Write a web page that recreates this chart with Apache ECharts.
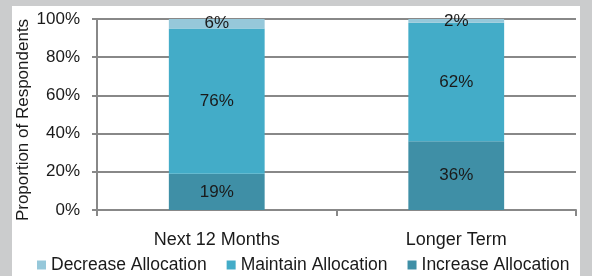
<!DOCTYPE html>
<html lang="en">
<head>
    <meta charset="UTF-8">
    <title>Allocation</title>
    <script src="https://cdn.jsdelivr.net/npm/echarts@6/dist/echarts.min.js"></script>
    <style>
        html, body { margin: 0; padding: 0; background: #cbcccd; }
        #panel { position: absolute; left: 12px; top: 6px; width: 568px; height: 270px; background: #fff; }
        #chart { position: absolute; left: 0; top: 0; width: 592px; height: 276px; }
    </style>
</head>
<body>
<div id="panel"></div>
<div id="chart"></div>
<script>
    var categories = ['Next 12 Months', 'Longer Term'];
    var seriesNames = ['Increase Allocation', 'Maintain Allocation', 'Decrease Allocation'];
    var increaseVals = [19, 36];
    var maintainVals = [76, 62];
    var decreaseVals = [6, 2];
    var yTicks = [0, 20, 40, 60, 80, 100];
    var yTitle = 'Proportion of Respondents';

    var colors = ['#3f8fa6', '#43acc8', '#96c8da'];
    var font = 'Liberation Sans, Arial, sans-serif';

    function makeSeries(name, data, color) {
        return {
            name: name,
            type: 'bar',
            stack: 'all',
            barWidth: '40%',
            data: data,
            itemStyle: { color: color },
            label: {
                show: true,
                position: 'inside',
                formatter: '{c}%',
                color: '#1a1a1a',
                fontFamily: font,
                fontSize: 17
            }
        };
    }

    var myChart = echarts.init(document.getElementById('chart'));
    var option = {
        animation: false,
        textStyle: { fontFamily: font },
        grid: { left: 97, right: 16, top: 19, bottom: 66 },
        // y axis title placed by hand
        graphic: [{
            type: 'text',
            x: 23,
            y: 120,
            rotation: Math.PI / 2,
            style: {
                text: yTitle,
                fill: '#1a1a1a',
                font: '17px ' + font,
                align: 'center',
                verticalAlign: 'middle'
            }
        }],
        legend: {
            top: 256,
            left: 37,
            itemWidth: 9,
            itemHeight: 9,
            itemGap: 20,
            icon: 'rect',
            padding: 0,
            data: ['Decrease Allocation', 'Maintain Allocation', 'Increase Allocation'],
            textStyle: { fontSize: 17.5, color: '#1a1a1a', fontFamily: font }
        },
        xAxis: {
            type: 'category',
            data: categories,
            axisLine: { lineStyle: { color: '#888', width: 2 } },
            axisTick: { show: true, length: 6, lineStyle: { color: '#888', width: 2 } },
            axisLabel: { fontSize: 18, color: '#1a1a1a', margin: 21, fontFamily: font }
        },
        yAxis: {
            type: 'value',
            min: yTicks[0],
            max: yTicks[yTicks.length - 1],
            interval: 20,
            axisLine: { show: true, lineStyle: { color: '#888', width: 2 } },
            axisTick: { show: true, length: 5, lineStyle: { color: '#888', width: 2 } },
            splitLine: { lineStyle: { color: '#888', width: 2 } },
            axisLabel: { formatter: '{value}%', fontSize: 17, color: '#1a1a1a', margin: 17, fontFamily: font }
        },
        series: [
            makeSeries(seriesNames[0], increaseVals, colors[0]),
            makeSeries(seriesNames[1], maintainVals, colors[1]),
            makeSeries(seriesNames[2], decreaseVals, colors[2])
        ]
    };
    myChart.setOption(option);
</script>
</body>
</html>
